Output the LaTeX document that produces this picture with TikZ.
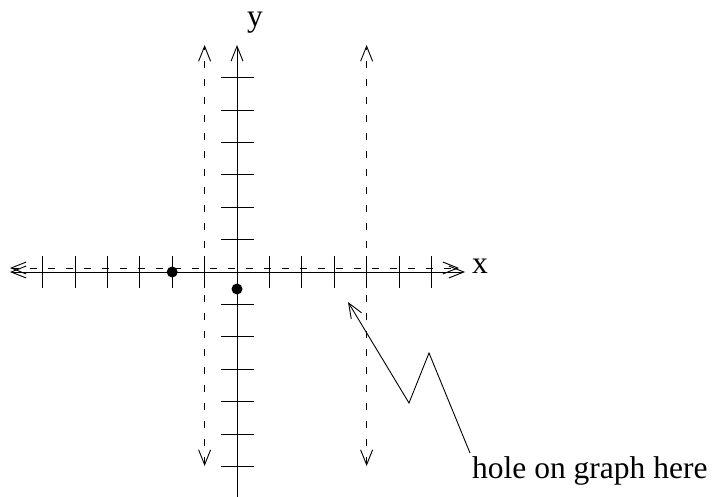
\documentclass[tikz,border=0pt]{standalone}
\usepackage{fontspec}
\setmainfont{Liberation Serif}
\usetikzlibrary{arrows.meta}
\begin{document}
\begin{tikzpicture}[x=1pt,y=-1pt,
  ln/.style={line width=0.9pt},
  dsh/.style={line width=0.9pt,dash pattern=on 7pt off 11pt},
  barb/.style={-{Straight Barb[length=15pt,width=12pt]}},
  barbs/.style={{Straight Barb[length=15pt,width=12pt]}-{Straight Barb[length=15pt,width=12pt]}},
  lbl/.style={inner sep=0pt,font=\fontsize{31.5}{36}\selectfont},
  dot/.style={circle,fill=black,inner sep=0pt,minimum size=11pt}]
\useasboundingbox (0,0) rectangle (712,497);
% axes end points
\coordinate (xl) at (10,272);
\coordinate (xr) at (465,272);
\coordinate (yb) at (237,497);
\coordinate (yt) at (237,45);
% dashed asymptotes
\coordinate (hl) at (10,268);
\coordinate (hr) at (459,268);
\coordinate (v1b) at (204.6,466);
\coordinate (v1t) at (204.6,45);
\coordinate (v2b) at (366.6,466);
\coordinate (v2t) at (366.6,45);
\draw[ln,barbs] (xl) -- (xr);
\draw[ln,barb] (yb) -- (yt);
\draw[dsh,barbs] (hl) -- (hr);
\draw[dsh,barbs] (v1b) -- (v1t);
\draw[dsh,barbs] (v2b) -- (v2t);
% ticks
\foreach \k in {-6,-5,-4,-3,-2,-1,1,2,3,4,5,6}{
  \draw[ln] ({237+32.4*\k},256) -- ({237+32.4*\k},288);
  \draw[ln] (221,{272+32.4*\k}) -- (254,{272+32.4*\k});
}
% labels
\node[lbl] (xlab) at (480,266) {x};
\node[lbl,anchor=base] (ylab) at (255,27) {y};
% points
\node[dot] (p1) at (172.2,272) {};
\node[dot] (p2) at (237,289) {};
% callout
\node[lbl,anchor=base west] (note) at (472,478) {hole on graph here};
\coordinate (hole) at (348,302);
\coordinate (c0) at (470,453);
\coordinate (c1) at (429,353);
\coordinate (c2) at (409,403);
\draw[ln,barb] (c0) -- (c1) -- (c2) -- (hole);
\end{tikzpicture}
\end{document}
